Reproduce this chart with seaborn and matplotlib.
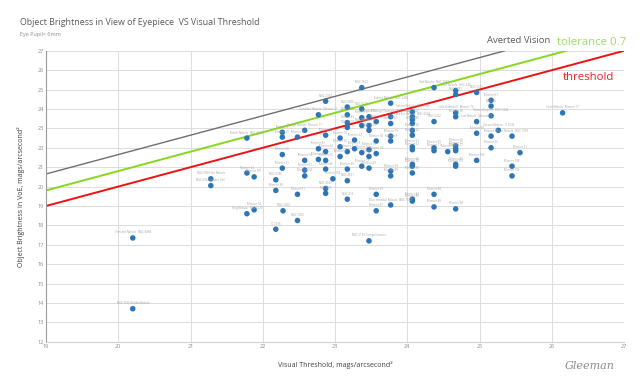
import matplotlib
matplotlib.use("Agg")
import matplotlib.pyplot as plt
import seaborn as sns
import pandas as pd

# reference lines (x range, y range)
threshold_x = [19.0, 27.0]
threshold_y = [19.0, 27.0]
tolerance_x = [19.0, 26.2]
tolerance_y = [19.8, 27.0]
averted_x = [19.0, 25.35]
averted_y = [20.65, 27.0]

# objects: visual threshold (x) vs brightness in view of eyepiece (y)
visual_threshold = [
    20.20, 20.20, 21.28, 21.28,
    21.78, 21.78, 21.78, 21.88, 21.88,
    22.18, 22.18, 22.18, 22.27, 22.27, 22.27, 22.27, 22.28,
    22.48, 22.48, 22.48,
    22.58, 22.58, 22.58, 22.58,
    22.77, 22.77, 22.77,
    22.87, 22.87, 22.87, 22.87, 22.87, 22.87, 22.87,
    22.97, 23.07, 23.07, 23.07,
    23.17, 23.17, 23.17, 23.17, 23.17, 23.17, 23.17, 23.17,
    23.27, 23.27,
    23.37, 23.37, 23.37, 23.37, 23.37, 23.37,
    23.47, 23.47, 23.47, 23.47, 23.47, 23.47, 23.47,
    23.57, 23.57, 23.57, 23.57, 23.57,
    23.77, 23.77, 23.77, 23.77, 23.77, 23.77, 23.77, 23.77,
    24.07, 24.07, 24.07, 24.07, 24.07, 24.07, 24.07, 24.07, 24.07, 24.07, 24.07, 24.07, 24.07,
    24.37, 24.37, 24.37, 24.37, 24.37, 24.37,
    24.67, 24.67, 24.67, 24.67, 24.67, 24.67, 24.67, 24.56, 24.67, 24.67, 24.67,
    24.96, 24.96, 24.96, 24.96,
    25.16, 25.16, 25.16, 25.16, 25.16,
    25.26,
    25.45, 25.45, 25.45,
    25.56, 26.15,
]
brightness = [
    17.35, 13.70, 20.40, 20.05,
    22.50, 20.70, 18.60, 20.50, 18.80,
    20.35, 19.80, 17.80, 22.80, 22.55, 21.65, 20.95, 18.75,
    22.55, 19.60, 18.25,
    22.90, 21.35, 20.85, 20.55,
    23.70, 21.95, 21.40,
    24.40, 22.65, 21.80, 21.35, 20.90, 19.90, 19.65,
    20.40, 22.50, 22.05, 21.55,
    24.10, 23.70, 23.30, 23.05, 21.80, 20.90, 20.30, 19.35,
    22.40, 21.95,
    25.10, 24.00, 23.55, 23.15, 21.75, 21.05,
    23.60, 23.15, 22.90, 21.90, 21.55, 20.95, 17.20,
    23.35, 22.35, 21.70, 19.60, 18.75,
    24.30, 23.60, 23.25, 22.60, 22.35, 20.80, 20.55, 19.05,
    23.85, 23.60, 23.45, 23.25, 22.90, 22.65, 22.05, 21.90, 21.15, 21.05, 20.70, 19.35, 19.25,
    25.10, 23.35, 22.00, 21.85, 19.60, 18.95,
    24.95, 24.75, 23.80, 23.60, 22.10, 21.95, 21.85, 21.80, 21.15, 21.05, 18.85,
    24.85, 23.35, 22.75, 21.35,
    24.45, 24.15, 23.65, 22.60, 22.00,
    22.90,
    22.60, 21.05, 20.55,
    21.75, 23.80,
]
names = [
    "Crescent Nebula · NGC 6888", "NGC 7635 Bubble Nebula", "NGC 6960 Veil Nebula", "NGC 6992 Eastern Veil",
    "Marsh Nebula · NGC 6523", "Messier 33", "Ring Nebula · NGC 6720", "Messier 101", "Messier 74",
    "NGC 6946", "Messier 83", "IC 1396", "Messier 8", "Messier 20", "Messier 56", "Messier 31", "NGC 2403",
    "Messier 16", "Messier 51", "NGC 7023",
    "Omega Nebula · Messier 17", "Messier 94", "Messier 63", "Messier 106",
    "Dumbbell Nebula · Messier 27", "Messier 82", "Messier 81",
    "NGC 2392", "Messier 42", "Messier 64", "Messier 65", "Messier 66", "NGC 4565", "NGC 891",
    "Messier 104", "Messier 13", "Messier 92", "Messier 3",
    "NGC 6826", "NGC 3242", "NGC 6543", "NGC 7009", "Messier 5", "Messier 49", "NGC 4631", "NGC 253",
    "Messier 22", "Messier 4",
    "NGC 7662", "NGC 6210", "Messier 57", "NGC 6572", "Messier 10", "Messier 12",
    "Messier 76", "Messier 97", "NGC 1535", "Messier 15", "Messier 2", "Messier 60", "NGC 5139 Omega Centauri",
    "Messier 1", "Messier 78", "Messier 14", "Messier 59", "Messier 87",
    "Eskimo Nebula · NGC 2392", "Blinking Planetary · NGC 6826", "NGC 3132", "Messier 19", "Messier 9",
    "Messier 58", "Messier 89", "Blue Snowball Nebula · NGC 7662",
    "Saturn Nebula · NGC 7009", "NGC 7027", "Cat's Eye Nebula · NGC 6543", "NGC 2440", "Messier 28",
    "Messier 54", "Messier 53", "Messier 62", "Messier 68", "Messier 70", "Messier 90", "Messier 84", "Messier 86",
    "Owl Nebula · NGC 3587", "NGC 6302", "Messier 69", "Messier 71", "Messier 84", "Messier 88",
    "Skull Nebula · NGC 246", "NGC 6781", "Little Dumbbell · Messier 76", "Messier 78", "Messier 30", "Messier 75",
    "Messier 72", "Messier 55", "Messier 80", "Messier 107", "Messier 98",
    "NGC 6369", "Lost Nebula · Messier 76", "Messier 99", "Messier 100",
    "Messier 61", "NGC 40", "Ghost of Jupiter · NGC 3242", "Messier 95", "Messier 96",
    "Cocoon Nebula · IC 5146",
    "Orion Nebula · NGC 1976", "Messier 108", "Messier 109",
    "Messier 91", "Swan Nebula · Messier 17",
]

df = pd.DataFrame({"threshold": visual_threshold, "brightness": brightness, "name": names})

sns.set_style("whitegrid")
plt.rcParams["font.family"] = ["Open Sans", "DejaVu Sans"]

fig = plt.figure(figsize=(6.4, 3.82), dpi=100)
ax = fig.add_axes([0.072, 0.1055, 0.903, 0.7615])

sns.lineplot(x=averted_x, y=averted_y, color="#6e6e6e", linewidth=1.0, ax=ax)
sns.lineplot(x=tolerance_x, y=tolerance_y, color="#86d81c", linewidth=1.4, ax=ax)
sns.lineplot(x=threshold_x, y=threshold_y, color="#ee1111", linewidth=1.4, ax=ax)

sns.scatterplot(data=df, x="threshold", y="brightness", color="#2e75b6",
                s=16, edgecolor="none", ax=ax, zorder=3)

# tiny grey labels above each point
for _, r in df.iterrows():
    ax.annotate(r["name"], (r["threshold"], r["brightness"]), xytext=(0, 2.5),
                textcoords="offset points", ha="center", va="bottom",
                fontsize=2.0, color="#a0a0a0")

ax.set_xlim(19, 27)
ax.set_ylim(12, 27)
ax.set_xticks(range(19, 28))
ax.set_yticks(range(12, 28))
ax.tick_params(axis="both", labelsize=4, colors="#8a8a8a", length=0, pad=1.5)
ax.grid(True, color="#dcdcdc", linewidth=0.7)
for side in ["top", "right"]:
    ax.spines[side].set_visible(False)
ax.spines["left"].set_color("#9a9a9a")
ax.spines["bottom"].set_color("#d0d0d0")
ax.spines["left"].set_linewidth(0.8)

ax.set_xlabel("Visual Threshold, mags/arcsecond\u00b2", fontsize=5, color="#404040", labelpad=9)
ax.set_ylabel("Object Brightness in VoE, mags/arcsecond\u00b2", fontsize=5, color="#404040", labelpad=9)

fig.text(0.031, 0.942, "Object Brightness in View of Eyepiece  VS Visual Threshold",
         fontsize=6.4, color="#595959", va="center")
fig.text(0.031, 0.91, "Eye Pupil= 6mm", fontsize=4, color="#8c8c8c", va="center")

fig.text(0.81, 0.893, "Averted Vision", fontsize=6.8, color="#595959", ha="center", va="center")
fig.text(0.925, 0.888, "tolerance 0.7", fontsize=8.2, color="#99dd66", ha="center", va="center")
fig.text(0.919, 0.798, "threshold", fontsize=8.2, color="#ee2222", ha="center", va="center")

fig.text(0.922, 0.043, "Gleeman", fontsize=8, color="#8a8a8a", ha="center", va="center",
         family="DejaVu Serif", style="italic")

fig.savefig("out.png", dpi=100)
